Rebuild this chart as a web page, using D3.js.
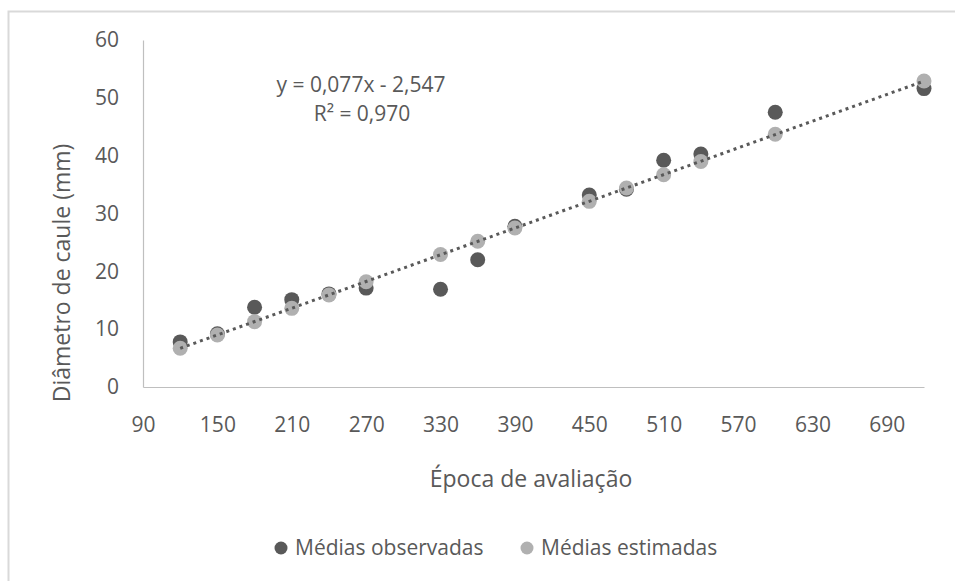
<!DOCTYPE html>
<html lang="pt">
<head>
    <meta charset="UTF-8">
    <title>Diâmetro de caule</title>
    <script src="https://cdn.jsdelivr.net/npm/d3@7/dist/d3.min.js"></script>
    <style>
        body { margin: 0; background: #fff; }
        text { font-family: "Open Sans", sans-serif; fill: #595959; }
    </style>
</head>
<body>
    <script>
        // data
        var epocas = [120, 150, 180, 210, 240, 270, 330, 360, 390, 450, 480, 510, 540, 600, 720];
        var observadas = [7.8, 9.2, 13.8, 15.1, 16.1, 17.1, 16.9, 22.0, 27.8, 33.2, 34.2, 39.2, 40.3, 47.5, 51.6];
        var estimadas = [6.7, 9.0, 11.3, 13.6, 15.9, 18.2, 22.9, 25.2, 27.5, 32.1, 34.4, 36.7, 39.0, 43.7, 52.9];
        var xTicks = [90, 150, 210, 270, 330, 390, 450, 510, 570, 630, 690];
        var yTicks = [0, 10, 20, 30, 40, 50, 60];
        // trendline coefficients (slope, intercept) from the chart label
        var trend = [0.077, -2.547];

        var w = 955;
        var h = 581;

        var svg = d3.select('body')
                    .append('svg')
                    .attr('width', w)
                    .attr('height', h);

        // chart border (only left and top are inside the picture)
        svg.append('rect')
            .attr('x', 8.5)
            .attr('y', 11.5)
            .attr('width', w + 20)
            .attr('height', h + 20)
            .attr('fill', 'none')
            .attr('stroke', '#d9d9d9')
            .attr('stroke-width', 2);

        var xScale = d3.scaleLinear().domain([90, 720]).range([143, 924]);
        var yScale = d3.scaleLinear().domain([0, 60]).range([387, 40]);

        var xAxis = d3.axisBottom(xScale).tickValues(xTicks).tickSize(0).tickPadding(30);
        var yAxis = d3.axisLeft(yScale).tickValues(yTicks).tickSize(0).tickPadding(24);

        var gx = svg.append('g')
            .attr('class', 'x axis')
            .attr('transform', 'translate(0,' + yScale(0) + ')')
            .call(xAxis);

        var gy = svg.append('g')
            .attr('class', 'y axis')
            .attr('transform', 'translate(' + xScale(90) + ',0)')
            .call(yAxis);

        gx.select('.domain').attr('stroke', '#bfbfbf').attr('stroke-width', 1.2);
        gy.select('.domain').attr('stroke', '#bfbfbf').attr('stroke-width', 1.2);
        svg.selectAll('.axis text')
            .attr('font-size', 21)
            .attr('font-family', '"Open Sans", sans-serif')
            .attr('fill', '#595959');

        var points = epocas.map(function(d, i) {
            return { x: d, obs: observadas[i], est: estimadas[i] };
        });

        // observed means
        svg.append('g')
            .selectAll('circle')
            .data(points)
            .enter()
            .append('circle')
            .attr('cx', function(d) { return xScale(d.x); })
            .attr('cy', function(d) { return yScale(d.obs); })
            .attr('r', 7.5)
            .attr('fill', '#595959');

        // estimated means
        svg.append('g')
            .selectAll('circle')
            .data(points)
            .enter()
            .append('circle')
            .attr('cx', function(d) { return xScale(d.x); })
            .attr('cy', function(d) { return yScale(d.est); })
            .attr('r', 7.5)
            .attr('fill', '#b0b0b0');

        // dotted linear trendline
        var x0 = d3.min(epocas), x1 = d3.max(epocas);
        svg.append('line')
            .attr('x1', xScale(x0))
            .attr('y1', yScale(trend[0] * x0 + trend[1]))
            .attr('x2', xScale(x1))
            .attr('y2', yScale(trend[0] * x1 + trend[1]))
            .attr('stroke', '#595959')
            .attr('stroke-width', 3)
            .attr('stroke-dasharray', '3,4');

        // equation label
        svg.append('text')
            .attr('x', 361)
            .attr('y', 92)
            .attr('text-anchor', 'middle')
            .attr('font-size', 21)
            .text('y = 0,077x - 2,547');
        svg.append('text')
            .attr('x', 362)
            .attr('y', 121)
            .attr('text-anchor', 'middle')
            .attr('font-size', 21)
            .text('R² = 0,970');

        // axis titles
        svg.append('text')
            .attr('x', 531)
            .attr('y', 487)
            .attr('text-anchor', 'middle')
            .attr('font-size', 23)
            .text('Época de avaliação');
        svg.append('text')
            .attr('transform', 'translate(70,273) rotate(-90)')
            .attr('text-anchor', 'middle')
            .attr('font-size', 23)
            .text('Diâmetro de caule (mm)');

        // legend
        var legend = [
            { label: 'Médias observadas', color: '#595959', x: 281 },
            { label: 'Médias estimadas', color: '#b0b0b0', x: 527 }
        ];
        var lg = svg.append('g').selectAll('g')
            .data(legend)
            .enter()
            .append('g')
            .attr('transform', function(d) { return 'translate(' + d.x + ',548)'; });
        lg.append('circle')
            .attr('r', 6.5)
            .attr('fill', function(d) { return d.color; });
        lg.append('text')
            .attr('x', 14)
            .attr('dy', '0.35em')
            .attr('font-size', 21)
            .text(function(d) { return d.label; });
    </script>
</body>
</html>
